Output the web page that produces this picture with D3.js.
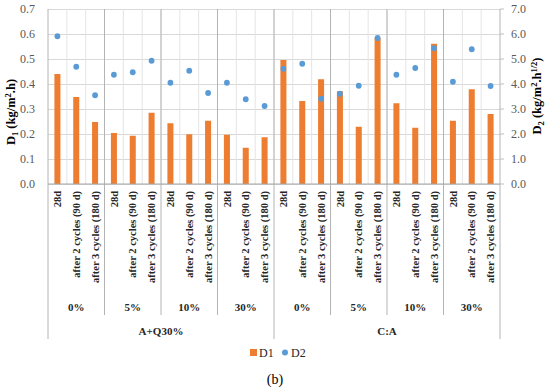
<!DOCTYPE html>
<html>
<head>
<meta charset="utf-8">
<script src="https://cdn.jsdelivr.net/npm/d3@7"></script>
<style>
  body { margin: 0; background: #fff; }
  svg { display: block; font-family: 'Liberation Serif', serif; }
</style>
</head>
<body>
<div id="chart"></div>
<script>
// data
const periods = ['28d', 'after 2 cycles (90 d)', 'after 3 cycles (180 d)'];
const levels = ['0%', '5%', '10%', '30%'];
const mixes = ['A+Q30%', 'C:A'];
const d1 = [0.44, 0.348, 0.248, 0.204, 0.193, 0.285, 0.243, 0.199, 0.253, 0.197, 0.145, 0.187,
            0.496, 0.332, 0.419, 0.371, 0.229, 0.584, 0.323, 0.225, 0.561, 0.253, 0.379, 0.28];
const d2 = [5.91, 4.69, 3.55, 4.37, 4.47, 4.93, 4.05, 4.53, 3.64, 4.05, 3.39, 3.12,
            4.61, 4.81, 3.41, 3.61, 3.93, 5.84, 4.37, 4.64, 5.43, 4.09, 5.39, 3.92];
const leftTicks = [0, 0.1, 0.2, 0.3, 0.4, 0.5, 0.6, 0.7];
const rightTicks = [0, 1, 2, 3, 4, 5, 6, 7];

const WIDTH = 550, HEIGHT = 387;
const M = { left: 48, right: 500, top: 9, bottom: 184 };
const ORANGE = '#ED7D31', BLUE = '#5B9BD5';

// build rows
const rows = [];
mixes.forEach((m, mi) => levels.forEach((l, li) => periods.forEach((p, pi) => {
  const i = rows.length;
  rows.push({ id: i, mix: m, level: l, group: mi * levels.length + li, period: p, d1: d1[i], d2: d2[i] });
})));

const svg = d3.select('#chart').append('svg').attr('width', WIDTH).attr('height', HEIGHT);

const x = d3.scaleBand().domain(rows.map((d) => d.id)).range([M.left, M.right]);
const xGroup = d3.scaleBand().domain(d3.range(mixes.length * levels.length)).range([M.left, M.right]);
const xMix = d3.scaleBand().domain(mixes).range([M.left, M.right]);
const yL = d3.scaleLinear().domain([0, 0.7]).range([M.bottom, M.top]);
const yR = d3.scaleLinear().domain([0, 7]).range([M.bottom, M.top]);

// horizontal grid
svg.append('g')
  .attr('transform', `translate(${M.left},0)`)
  .call(d3.axisLeft(yL).tickValues(leftTicks).tickSize(-(M.right - M.left)).tickFormat(''))
  .call((g) => g.select('.domain').remove())
  .selectAll('line').attr('stroke', '#D9D9D9');

// vertical category grid
svg.append('g')
  .selectAll('line')
  .data(rows.slice(1))
  .join('line')
  .attr('x1', (d) => x(d.id)).attr('x2', (d) => x(d.id))
  .attr('y1', M.top).attr('y2', M.bottom)
  .attr('stroke', '#E4E4E4');

// group separators (through plot and label area)
const groupEdges = d3.range(1, mixes.length * levels.length).filter((g) => g % levels.length !== 0);
svg.append('g')
  .selectAll('line')
  .data(groupEdges)
  .join('line')
  .attr('x1', (g) => xGroup(g)).attr('x2', (g) => xGroup(g))
  .attr('y1', M.top).attr('y2', 315)
  .attr('stroke', '#B4B4B4');

svg.append('g')
  .selectAll('line')
  .data([M.left, xMix(mixes[1]), M.right])
  .join('line')
  .attr('x1', (d) => d).attr('x2', (d) => d)
  .attr('y1', M.top).attr('y2', 339)
  .attr('stroke', '#B4B4B4');

// bars
const bw = x.bandwidth() * 0.32;
svg.append('g')
  .selectAll('rect')
  .data(rows)
  .join('rect')
  .attr('x', (d) => x(d.id) + (x.bandwidth() - bw) / 2)
  .attr('y', (d) => yL(d.d1))
  .attr('width', bw)
  .attr('height', (d) => yL(0) - yL(d.d1))
  .attr('fill', ORANGE);

// baseline
svg.append('line')
  .attr('x1', M.left).attr('x2', M.right)
  .attr('y1', M.bottom).attr('y2', M.bottom)
  .attr('stroke', '#A6A6A6');

// dots
svg.append('g')
  .selectAll('circle')
  .data(rows)
  .join('circle')
  .attr('cx', (d) => x(d.id) + x.bandwidth() / 2)
  .attr('cy', (d) => yR(d.d2))
  .attr('r', 2.9)
  .attr('fill', BLUE);

// left axis
svg.append('g')
  .attr('transform', `translate(${M.left - 10},0)`)
  .call(d3.axisLeft(yL).tickValues(leftTicks).tickSize(0).tickFormat(d3.format('.1f')))
  .call((g) => g.select('.domain').remove())
  .selectAll('text')
  .attr('font-family', 'Liberation Serif').attr('font-size', 12).attr('fill', '#595959');

// right axis
svg.append('g')
  .attr('transform', `translate(${M.right + 8},0)`)
  .call(d3.axisRight(yR).tickValues(rightTicks).tickSize(0).tickFormat(d3.format('.1f')))
  .call((g) => g.select('.domain').remove())
  .selectAll('text')
  .attr('font-family', 'Liberation Serif').attr('font-size', 12).attr('fill', '#595959');

// right minor ticks
svg.append('g')
  .selectAll('line')
  .data(rightTicks)
  .join('line')
  .attr('x1', M.right).attr('x2', M.right + 4)
  .attr('y1', (d) => yR(d)).attr('y2', (d) => yR(d))
  .attr('stroke', '#BFBFBF');

// category labels
svg.append('g')
  .attr('transform', `translate(0,${M.bottom + 7})`)
  .call(d3.axisBottom(x).tickSize(0).tickFormat((i) => rows[i].period))
  .call((g) => g.select('.domain').remove())
  .selectAll('text')
  .attr('font-family', 'Liberation Serif').attr('font-size', 10.5).attr('font-weight', 'bold')
  .attr('fill', '#262626')
  .attr('text-anchor', 'end')
  .attr('transform', 'rotate(-90)')
  .attr('x', 0).attr('y', 0).attr('dy', '0.35em');

// level labels
svg.append('g')
  .selectAll('text')
  .data(d3.range(mixes.length * levels.length))
  .join('text')
  .attr('x', (g) => xGroup(g) + xGroup.bandwidth() / 2)
  .attr('y', 311)
  .attr('text-anchor', 'middle')
  .attr('font-size', 11).attr('font-weight', 'bold').attr('fill', '#262626')
  .text((g) => levels[g % levels.length]);

// mix labels
svg.append('g')
  .selectAll('text')
  .data(mixes)
  .join('text')
  .attr('x', (m) => xMix(m) + xMix.bandwidth() / 2)
  .attr('y', 335)
  .attr('text-anchor', 'middle')
  .attr('font-size', 11).attr('font-weight', 'bold').attr('fill', '#262626')
  .text((m) => m);

// axis titles
const tl = svg.append('text')
  .attr('transform', 'translate(15,112) rotate(-90)')
  .attr('text-anchor', 'middle')
  .attr('font-size', 12.5).attr('font-weight', 'bold').attr('fill', '#000');
tl.append('tspan').text('D');
tl.append('tspan').attr('font-size', 8.5).attr('dy', 3).text('1');
tl.append('tspan').attr('dy', -3).text(' (kg/m');
tl.append('tspan').attr('font-size', 8.5).attr('dy', -4).text('2');
tl.append('tspan').attr('dy', 4).text('.h)');

const tr = svg.append('text')
  .attr('transform', 'translate(541,96) rotate(-90)')
  .attr('text-anchor', 'middle')
  .attr('font-size', 12.5).attr('font-weight', 'bold').attr('fill', '#000');
tr.append('tspan').text('D');
tr.append('tspan').attr('font-size', 8.5).attr('dy', 3).text('2');
tr.append('tspan').attr('dy', -3).text(' (kg/m');
tr.append('tspan').attr('font-size', 8.5).attr('dy', -4).text('2');
tr.append('tspan').attr('dy', 4).text('.h');
tr.append('tspan').attr('font-size', 8.5).attr('dy', -4).text('1/2');
tr.append('tspan').attr('dy', 4).text(')');

// legend
const lg = svg.append('g').attr('transform', 'translate(0,357)');
lg.append('rect').attr('x', 250).attr('y', -8).attr('width', 7).attr('height', 7).attr('fill', ORANGE);
lg.append('text').attr('x', 259).attr('y', 0).attr('font-size', 12).attr('fill', '#262626').text('D1');
lg.append('circle').attr('cx', 285).attr('cy', -4.5).attr('r', 3).attr('fill', BLUE);
lg.append('text').attr('x', 291).attr('y', 0).attr('font-size', 12).attr('fill', '#262626').text('D2');

// caption
svg.append('text')
  .attr('x', 275).attr('y', 384)
  .attr('text-anchor', 'middle')
  .attr('font-size', 14).attr('fill', '#000')
  .text('(b)');
</script>
</body>
</html>
